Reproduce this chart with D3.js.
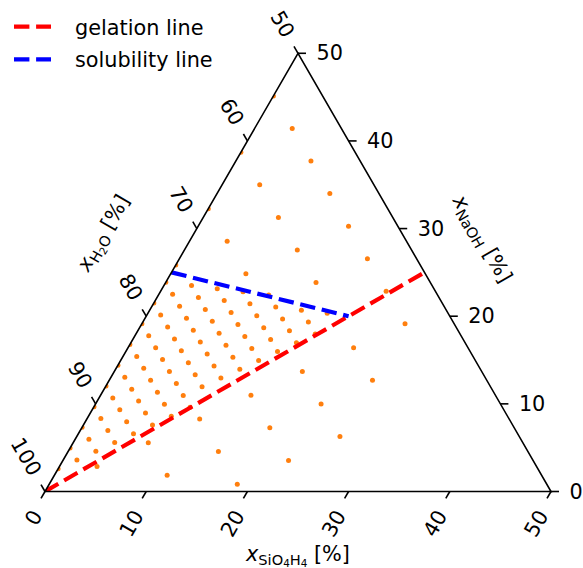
<!DOCTYPE html>
<html><head><meta charset="utf-8">
<script src="https://cdn.jsdelivr.net/npm/d3@7"></script>
<style>
html,body{margin:0;padding:0;background:#fff;}
svg text{font-family:"DejaVu Sans",sans-serif;white-space:pre;}
</style></head>
<body><div id="chart"></div>
<script>
// ---- data (mole fractions in %) ----
const siTicks = [0, 10, 20, 30, 40, 50];
const naohTicks = [0, 10, 20, 30, 40, 50];
const h2oTicks = [50, 60, 70, 80, 90, 100];

const gelationSi = [0, 25];
const gelationNaOH = [0, 25];
const solubilitySi = [0, 20];
const solubilityNaOH = [25, 20];

// dense set of compositions (SiO4H4 %, NaOH %)
const fineSi = [
  0,0,0,0,0,0,0,0,0,0,
  1.36,1.36,1.36,1.36,1.36,1.36,1.36,1.36,1.36,
  2.73,2.73,2.73,2.73,2.73,2.73,2.73,2.73,2.73,
  4.09,4.09,4.09,4.09,4.09,4.09,4.09,4.09,
  5.45,5.45,5.45,5.45,5.45,5.45,5.45,5.45,
  6.82,6.82,6.82,6.82,6.82,6.82,6.82,
  8.18,8.18,8.18,8.18,8.18,8.18,8.18,
  9.54,9.54,9.54,9.54,9.54,9.54,
  10.90,10.90,10.90,10.90,10.90,
  12.27,12.27,12.27,12.27,
  13.63,13.63,13.63,
  14.99,14.99,14.99,
  16.36,16.36,
  17.72,17.72
];
const fineNaOH = [
  2.59,4.95,7.32,9.68,12.05,14.41,16.77,19.14,21.50,23.87,
  3.59,5.96,8.32,10.68,13.05,15.41,17.78,20.14,22.50,
  4.59,6.96,9.32,11.68,14.05,16.41,18.78,21.14,23.50,
  5.59,7.96,10.32,12.69,15.05,17.41,19.78,22.14,
  6.59,8.96,11.32,13.69,16.05,18.41,20.78,23.14,
  7.60,9.96,12.32,14.69,17.05,19.42,21.78,
  8.60,10.96,13.32,15.69,18.05,20.42,22.78,
  9.60,11.96,14.33,16.69,19.05,21.42,
  12.96,15.33,17.69,20.05,22.42,
  13.96,16.33,18.69,21.06,
  14.96,17.33,19.69,
  15.97,18.33,20.69,
  16.97,19.33,
  17.97,20.33
];
// coarse set of compositions (SiO4H4 %, NaOH %)
const coarseSi = [
  0,3.72,7.43,11.15,14.86,18.58,22.29,26.01,
  0,3.72,7.43,11.15,14.86,22.29,26.01,
  0,3.72,7.43,18.58,22.29,26.01,
  0,14.86,18.58,22.29,
  11.15,14.86,18.58,
  7.43,11.15,
  3.72
];
const coarseNaOH = [
  45.13,41.42,37.70,33.99,30.27,26.56,22.84,19.13,
  38.70,34.99,31.27,27.56,23.84,16.41,12.70,
  32.27,28.56,24.84,13.70,9.98,6.27,
  25.84,10.98,7.27,3.55,
  8.27,4.55,0.84,
  5.55,1.84,
  2.84
];

// ---- geometry ----
const W = 583, HH = 568;
const BLx = 45, BLy = 491.5, SIDE = 506;
const TH = SIDE * Math.sqrt(3) / 2;
const xS = d3.scaleLinear().domain([0, 50]).range([0, SIDE]);
const yN = d3.scaleLinear().domain([0, 50]).range([BLy, BLy - TH]);
const h2oToN = d3.scaleLinear().domain([50, 100]).range([50, 0]);
const pos = (s, n) => [BLx + xS(s) + xS(n) / 2, yN(n)];

const svg = d3.select("#chart").append("svg").attr("width", W).attr("height", HH);
const corners = [pos(0, 0), pos(50, 0), pos(0, 50)];
svg.append("clipPath").attr("id", "tri").append("polygon")
  .attr("points", corners.map(p => p.join(",")).join(" "));

const FS = 20.8, TICK = 8, LW = 1.6;

// points
const pts = fineSi.map((s, i) => [s, fineNaOH[i]])
  .concat(coarseSi.map((s, i) => [s, coarseNaOH[i]]));
svg.append("g").attr("clip-path", "url(#tri)")
  .selectAll("circle").data(pts).join("circle")
  .attr("cx", d => pos(d[0], d[1])[0]).attr("cy", d => pos(d[0], d[1])[1])
  .attr("r", 2.5).attr("fill", "#ff7f0e");

// lines
const line = d3.line().x(d => pos(d[0], d[1])[0]).y(d => pos(d[0], d[1])[1]);
const lg = svg.append("g").attr("clip-path", "url(#tri)");
lg.append("path").datum(gelationSi.map((s, i) => [s, gelationNaOH[i]]))
  .attr("d", line).attr("fill", "none").attr("stroke", "#ff0000")
  .attr("stroke-width", 4.17).attr("stroke-dasharray", "15.4,6.7");
lg.append("path").datum(solubilitySi.map((s, i) => [s, solubilityNaOH[i]]))
  .attr("d", line).attr("fill", "none").attr("stroke", "#0000ff")
  .attr("stroke-width", 4.17).attr("stroke-dasharray", "15.4,6.7");

// triangle frame
svg.append("polygon").attr("points", corners.map(p => p.join(",")).join(" "))
  .attr("fill", "none").attr("stroke", "#000").attr("stroke-width", LW)
  .attr("stroke-linejoin", "miter");

// bottom axis (SiO4H4)
const gb = svg.append("g");
siTicks.forEach(v => {
  const [x, y] = pos(v, 0);
  gb.append("line").attr("x1", x).attr("y1", y)
    .attr("x2", x - TICK * 0.5).attr("y2", y + TICK * 0.866)
    .attr("stroke", "#000").attr("stroke-width", LW);
  gb.append("text").attr("transform", `translate(${x - 8},${y + 20.5}) rotate(-60)`)
    .attr("text-anchor", "end").attr("dominant-baseline", "central")
    .attr("font-size", FS).text(v);
});
// right axis (NaOH)
naohTicks.forEach(v => {
  const [x, y] = pos(50 - v, v);
  gb.append("line").attr("x1", x).attr("y1", y).attr("x2", x + TICK).attr("y2", y)
    .attr("stroke", "#000").attr("stroke-width", LW);
  gb.append("text").attr("x", x + 18.5).attr("y", y)
    .attr("dominant-baseline", "central").attr("font-size", FS).text(v);
});
// left axis (H2O)
h2oTicks.forEach(v => {
  const [x, y] = pos(0, h2oToN(v));
  gb.append("line").attr("x1", x).attr("y1", y)
    .attr("x2", x - TICK * 0.5).attr("y2", y - TICK * 0.866)
    .attr("stroke", "#000").attr("stroke-width", LW);
  gb.append("text").attr("transform", `translate(${x - 9},${y - 17.5}) rotate(60)`)
    .attr("text-anchor", "end").attr("dominant-baseline", "central")
    .attr("font-size", FS).text(v);
});

// axis titles
function title(g, parts) {
  const t = g.append("text").attr("text-anchor", "middle").attr("font-size", FS);
  parts.forEach(p => {
    const ts = t.append("tspan").text(p.t);
    if (p.fs) ts.attr("font-size", p.fs);
    if (p.dy) ts.attr("dy", p.dy);
    if (p.it) ts.attr("font-style", "italic");
  });
  return t;
}
const S1 = 14.6, S2 = 10.4;
// bottom
title(svg.append("g").attr("transform", `translate(298,561)`), [
  {t: "x", it: 1}, {t: "SiO", fs: S1, dy: 4}, {t: "4", fs: S2, dy: 2},
  {t: "H", fs: S1, dy: -2}, {t: "4", fs: S2, dy: 2}, {t: " [%]", dy: -6}
]);
// left
{
  const [mx, my] = pos(0, 25);
  const cx = mx - 77 * 0.866, cy = my - 77 * 0.5;
  const g = svg.append("g").attr("transform", `translate(${cx},${cy}) rotate(-60)`);
  title(g, [{t: "x", it: 1}, {t: "H", fs: S1, dy: 4}, {t: "2", fs: S2, dy: 2},
    {t: "O", fs: S1, dy: -2}, {t: " [%]", dy: -4}]).attr("y", 5);
}
// right
{
  const [mx, my] = pos(25, 25);
  const cx = mx + 65 * 0.866, cy = my - 65 * 0.5;
  const g = svg.append("g").attr("transform", `translate(${cx},${cy}) rotate(60)`);
  title(g, [{t: "x", it: 1}, {t: "NaOH", fs: S1, dy: 4}, {t: " [%]", dy: -4}]).attr("y", 5);
}

// legend
const legend = [{name: "gelation line", color: "#ff0000", y: 26.7},
                {name: "solubility line", color: "#0000ff", y: 59.3}];
legend.forEach(d => {
  svg.append("line").attr("x1", 14).attr("x2", 51).attr("y1", d.y).attr("y2", d.y)
    .attr("stroke", d.color).attr("stroke-width", 4.17).attr("stroke-dasharray", "15.4,6.7");
  svg.append("text").attr("x", 75).attr("y", d.y + 1).attr("dominant-baseline", "central")
    .attr("font-size", FS).text(d.name);
});
</script></body></html>
